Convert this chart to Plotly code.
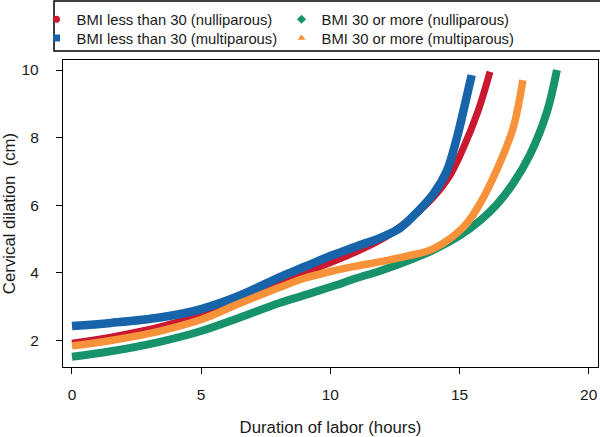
import plotly.graph_objects as go

# ---- data ----
x_red = [0, 1.5, 3.4, 5.0, 6.5, 8.0, 9.0, 10.0, 11.0, 12.0, 12.7, 13.4, 14.0, 14.64, 15.15, 15.7, 16.18]
y_red = [1.92, 2.10, 2.40, 2.76, 3.20, 3.70, 4.00, 4.30, 4.62, 5.0, 5.36, 5.80, 6.25, 6.90, 7.70, 8.75, 9.95]

x_blue = [0, 1.5, 3.4, 5.0, 6.5, 8.0, 9.0, 10.0, 11.0, 12.0, 12.7, 13.3, 14.0, 14.5, 14.9, 15.2, 15.47]
y_blue = [2.43, 2.52, 2.68, 2.93, 3.33, 3.86, 4.18, 4.50, 4.78, 5.06, 5.33, 5.75, 6.35, 7.0, 8.0, 8.95, 9.85]

x_green = [0, 1.5, 3.4, 5.0, 6.5, 8.0, 9.0, 10.0, 11.0, 12.0, 13.0, 14.0, 15.0, 15.8, 16.44, 17.08, 17.73, 18.38, 18.77]
y_green = [1.52, 1.68, 1.96, 2.28, 2.68, 3.10, 3.34, 3.58, 3.84, 4.08, 4.36, 4.68, 5.10, 5.55, 6.02, 6.65, 7.50, 8.75, 10.0]

x_orange = [0, 1.5, 3.4, 5.0, 6.5, 8.0, 9.0, 10.0, 11.0, 12.0, 13.0, 14.0, 15.15, 15.8, 16.44, 17.08, 17.45]
y_orange = [1.84, 2.0, 2.28, 2.62, 3.10, 3.56, 3.84, 4.04, 4.20, 4.34, 4.50, 4.72, 5.35, 6.06, 7.04, 8.30, 9.70]

names = ["BMI less than 30 (nulliparous)", "BMI less than 30 (multiparous)",
         "BMI 30 or more (nulliparous)", "BMI 30 or more (multiparous)"]
x_ticks = [0, 5, 10, 15, 20]
y_ticks = [2, 4, 6, 8, 10]

colors = ["#C9182F", "#1764AB", "#16936B", "#F8923A"]
symbols = ["circle", "square", "diamond", "triangle-up"]
widths = [7, 8.5, 8, 7.5]
legend_rows = ["legend", "legend2", "legend", "legend2"]
series = [(x_red, y_red), (x_blue, y_blue), (x_green, y_green), (x_orange, y_orange)]

FONT = "Liberation Sans, Arial, sans-serif"
fig = go.Figure()
for (xs, ys), c, w in zip(series, colors, widths):
    fig.add_trace(go.Scatter(x=xs, y=ys, mode="lines", line=dict(color=c, width=w, shape="spline", smoothing=1.0),
                             showlegend=False, hoverinfo="skip"))
for n, c, s, lg in zip(names, colors, symbols, legend_rows):
    fig.add_trace(go.Scatter(x=[None], y=[None], mode="markers", name=n, legend=lg,
                             marker=dict(color=c, symbol=s, size=7)))

leg_common = dict(orientation="h", xanchor="left", yanchor="top",
                  entrywidth=200, entrywidthmode="pixels", borderwidth=0,
                  bgcolor="rgba(0,0,0,0)", font=dict(size=14.8, family=FONT, color="#1a1a1a"),
                  traceorder="normal")

fig.update_layout(
    width=600, height=437,
    margin=dict(l=63, r=2, t=60, b=70, autoexpand=False),
    paper_bgcolor="white", plot_bgcolor="white",
    font=dict(family=FONT, color="#1a1a1a", size=15),
    showlegend=True,
    legend=dict(x=-0.0495, y=1.1853, **leg_common),
    legend2=dict(x=-0.0495, y=1.1241, **leg_common),
    shapes=[dict(type="rect", xref="paper", yref="paper", x0=-0.0168, x1=1.01, y0=1.029, y1=1.192,
                 line=dict(color="black", width=1.5), fillcolor="rgba(0,0,0,0)", layer="above")],
)
fig.update_xaxes(range=[-0.348, 20.36], tickvals=x_ticks, ticks="outside", ticklen=6, tickwidth=1.2,
                 tickcolor="black", showline=True, mirror=True, linecolor="black", linewidth=1.3,
                 showgrid=False, zeroline=False, tickfont=dict(size=15.5), ticklabelstandoff=7,
                 automargin=False,
                 title=dict(text="Duration of labor (hours)", font=dict(size=16.8), standoff=20))
fig.update_yaxes(range=[1.216, 10.296], tickvals=y_ticks, ticks="outside", ticklen=6, tickwidth=1.2,
                 tickcolor="black", showline=True, mirror=True, linecolor="black", linewidth=1.3,
                 showgrid=False, zeroline=False, tickfont=dict(size=15.5), ticklabelstandoff=14,
                 automargin=False,
                 title=dict(text="Cervical dilation  (cm)", font=dict(size=16.8), standoff=18))

fig.write_html("out.html", config={"displayModeBar": False},
               post_script="document.body.style.margin='0';")
